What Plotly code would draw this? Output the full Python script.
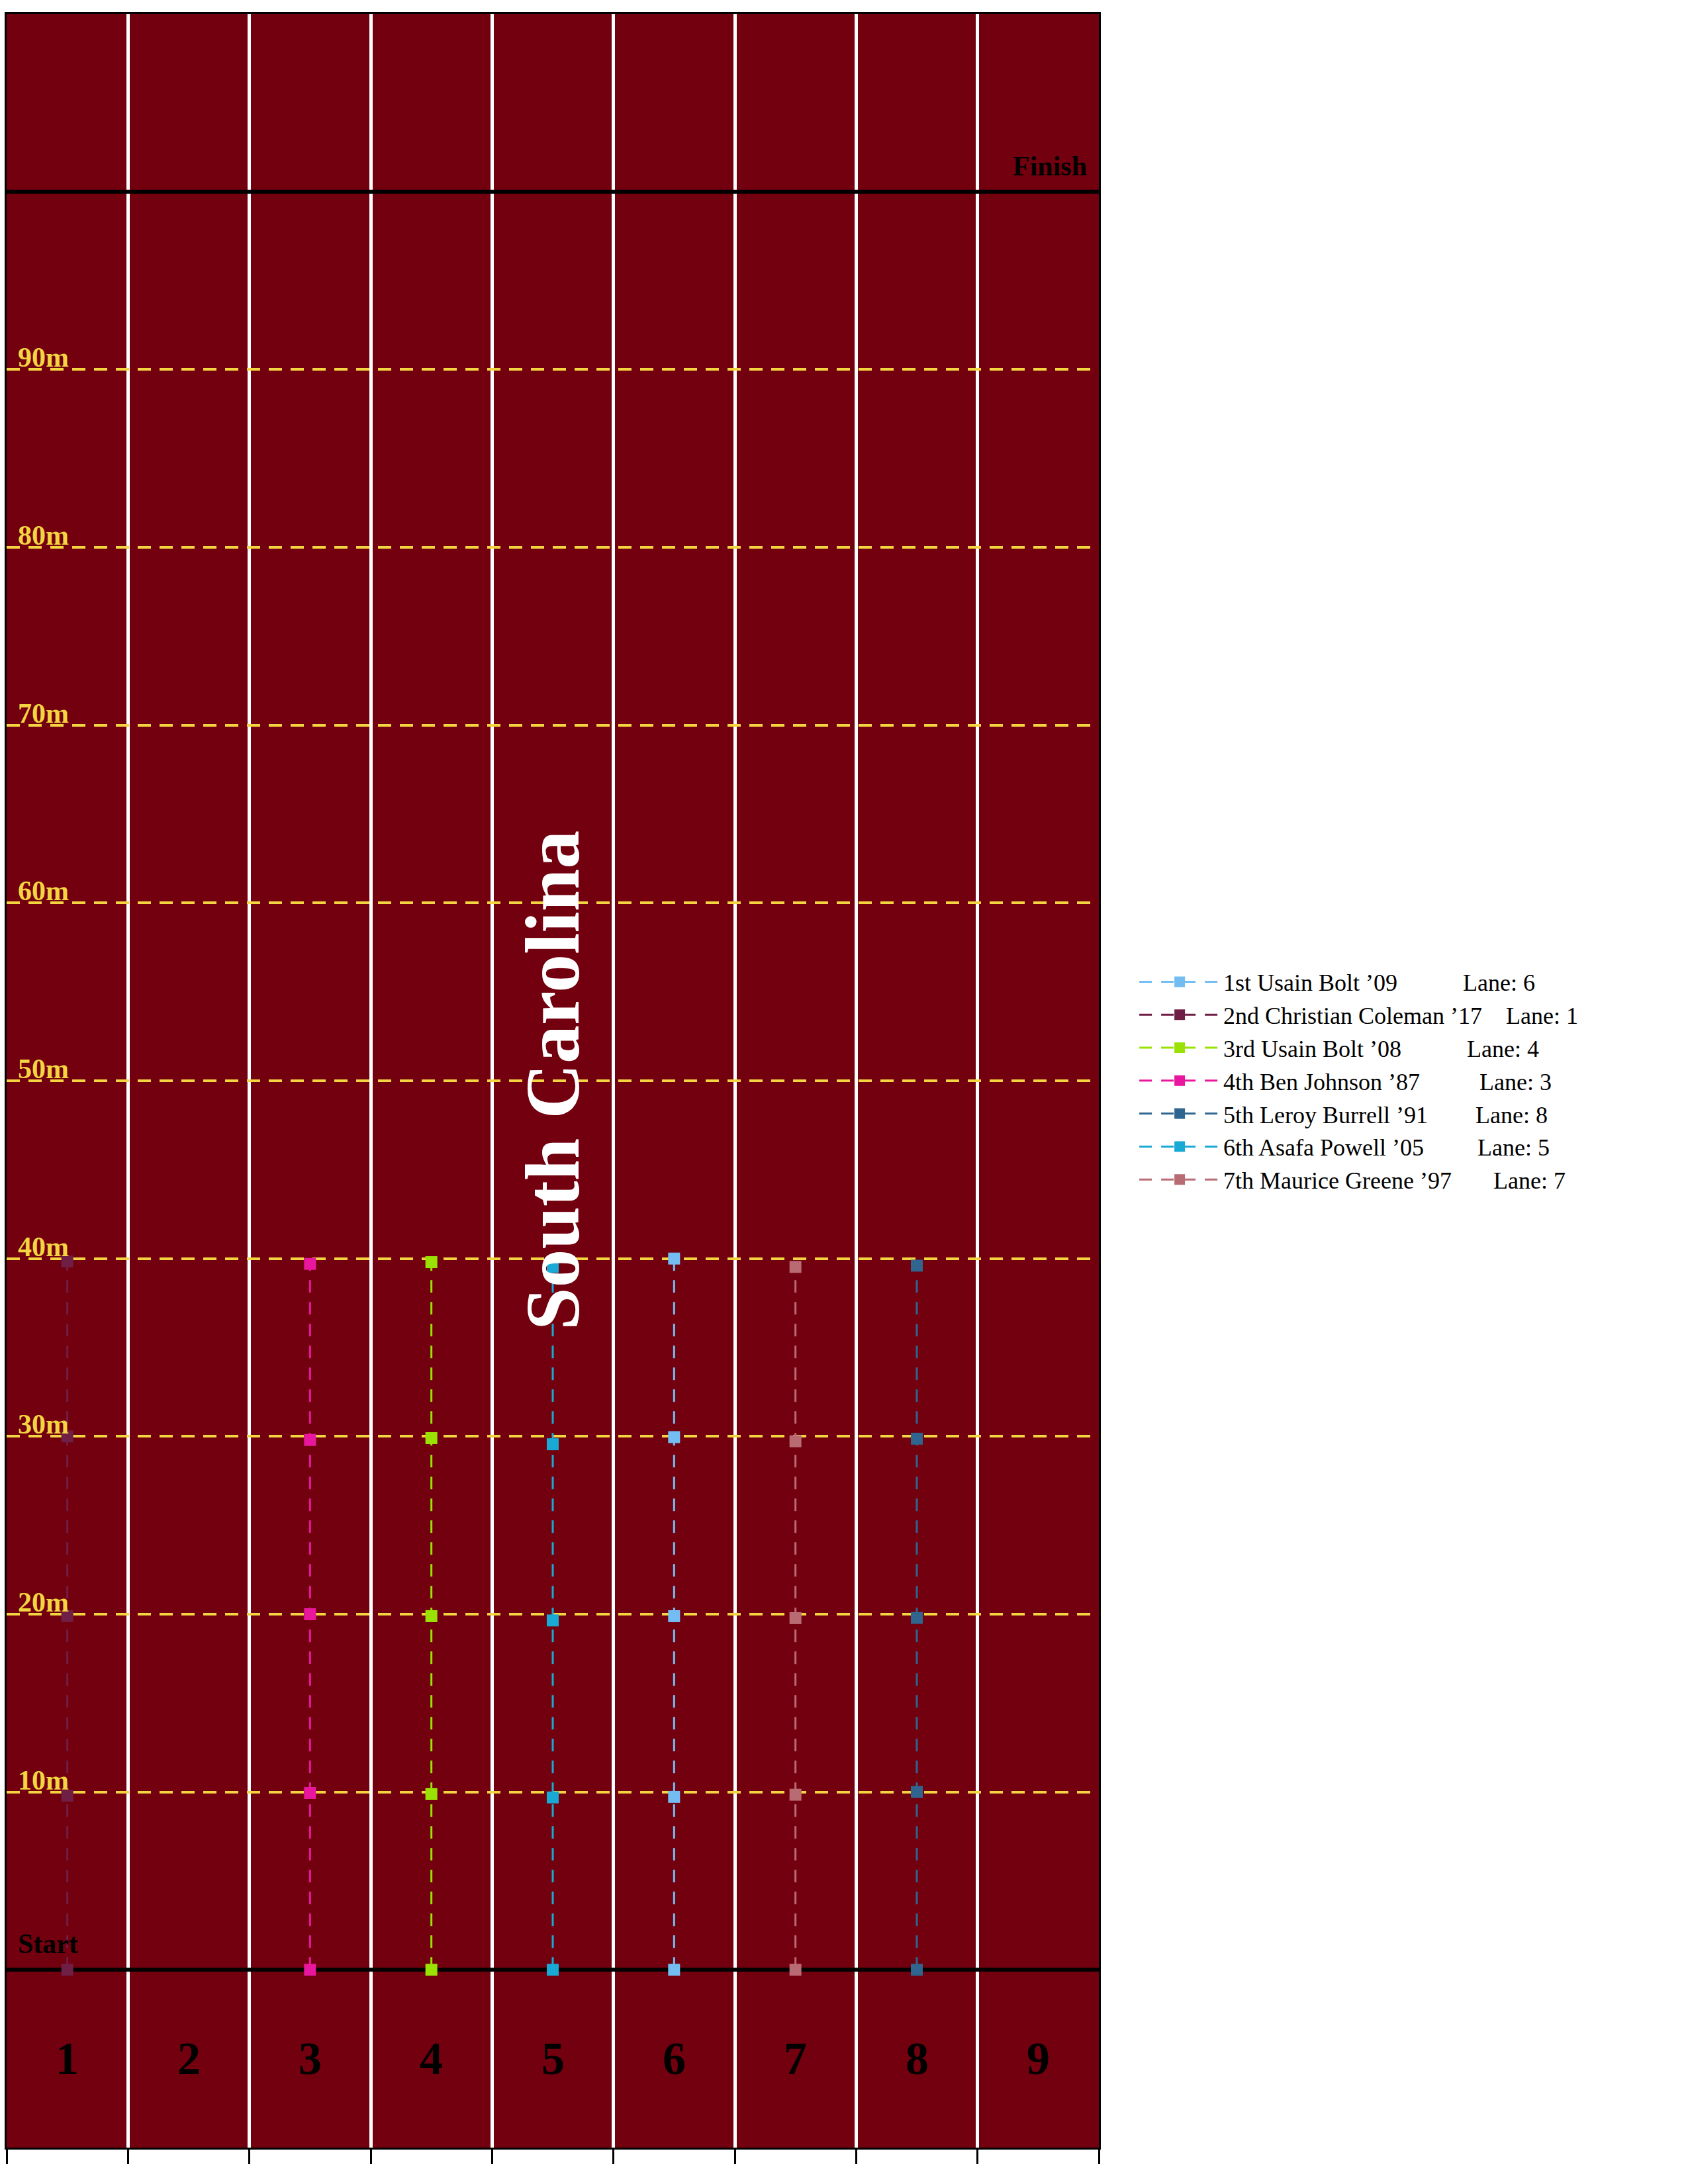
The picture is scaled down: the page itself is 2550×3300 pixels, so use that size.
import plotly.graph_objects as go

# ---------------- data ----------------
lane_numbers = [1, 2, 3, 4, 5, 6, 7, 8, 9]
lane_edges = [0.5, 1.5, 2.5, 3.5, 4.5, 5.5, 6.5, 7.5, 8.5, 9.5]
mark_values = [10, 20, 30, 40, 50, 60, 70, 80, 90]
mark_labels = ["10m", "20m", "30m", "40m", "50m", "60m", "70m", "80m", "90m"]
start_m = 0
finish_m = 100

runner_names = [
    "1st Usain Bolt \u201909",
    "2nd Christian Coleman \u201917",
    "3rd Usain Bolt \u201908",
    "4th Ben Johnson \u201987",
    "5th Leroy Burrell \u201991",
    "6th Asafa Powell \u201905",
    "7th Maurice Greene \u201997",
]
runner_lanes = [6, 1, 4, 3, 8, 5, 7]
runner_colors = ["#74bdf3", "#6f1e45", "#9ae203", "#e9179d", "#2f658f", "#18a9d4", "#b96b74"]

dist_bolt09 = [0, 9.73, 19.89, 29.96, 40.0]
dist_coleman17 = [0, 9.78, 19.89, 30.0, 39.84]
dist_bolt08 = [0, 9.88, 19.89, 29.9, 39.8]
dist_johnson87 = [0, 9.95, 20.0, 29.8, 39.7]
dist_burrell91 = [0, 10.0, 19.79, 29.87, 39.6]
dist_powell05 = [0, 9.69, 19.65, 29.56, 39.53]
dist_greene97 = [0, 9.85, 19.78, 29.72, 39.53]
runner_dists = [dist_bolt09, dist_coleman17, dist_bolt08, dist_johnson87,
                dist_burrell91, dist_powell05, dist_greene97]

title_text = "South Carolina"

# ---------------- styles ----------------
SERIF = "Liberation Serif, Times New Roman, serif"
TRACK = "#72000e"
YELLOW = "#f3d541"

fig = go.Figure()

# start and finish lines (drawn beneath the runners)
fig.add_trace(go.Scatter(
    x=[lane_edges[0], lane_edges[-1], None, lane_edges[0], lane_edges[-1]],
    y=[start_m, start_m, None, finish_m, finish_m],
    mode="lines", line=dict(color="black", width=6), showlegend=False,
    hoverinfo="skip", cliponaxis=False,
))

for name, lane, color, dist in zip(runner_names, runner_lanes, runner_colors, runner_dists):
    label = name + "\u00a0" * (29 - len(name)) + "Lane: " + str(lane)
    fig.add_trace(go.Scatter(
        x=[lane] * len(dist), y=dist, name=label, mode="lines+markers",
        line=dict(color=color, width=3, dash="19px,14px"),
        marker=dict(symbol="square", size=18, color=color),
    ))

annotations = []
for v, t in zip(mark_values, mark_labels):
    annotations.append(dict(x=0.58, y=v, xref="x", yref="y", text=t, showarrow=False,
                            xanchor="left", yanchor="bottom", yshift=-7,
                            font=dict(family=SERIF, size=42, color=YELLOW, weight="bold")))
annotations.append(dict(x=0.58, y=start_m, xref="x", yref="y", text="Start", showarrow=False,
                        xanchor="left", yanchor="bottom", yshift=14,
                        font=dict(family=SERIF, size=42, color="black", weight="bold")))
annotations.append(dict(x=9.41, y=finish_m, xref="x", yref="y", text="Finish", showarrow=False,
                        xanchor="right", yanchor="bottom", yshift=14,
                        font=dict(family=SERIF, size=42, color="black", weight="bold")))
for n in lane_numbers:
    annotations.append(dict(x=n, y=-5, xref="x", yref="y", text=str(n), showarrow=False,
                            xanchor="center", yanchor="middle",
                            font=dict(family=SERIF, size=70, color="black", weight="bold")))
annotations.append(dict(x=5, y=50, xref="x", yref="y", text=title_text, showarrow=False,
                        textangle=-90, xanchor="center", yanchor="middle",
                        font=dict(family=SERIF, size=116, color="white", weight="bold")))

fig.update_layout(
    width=2550, height=3300,
    margin=dict(l=10, r=890, t=21, b=55),
    paper_bgcolor="white", plot_bgcolor=TRACK,
    showlegend=True,
    legend=dict(x=1.034, xanchor="left", y=0.5, yanchor="middle",
                font=dict(family=SERIF, size=36, color="black"),
                bgcolor="rgba(0,0,0,0)", itemwidth=122, tracegroupgap=0),
    annotations=annotations,
    font=dict(family=SERIF),
)
fig.update_xaxes(range=[0.5, 9.5], tickvals=lane_edges, showticklabels=False,
                 ticks="outside", ticklen=22, tickwidth=3, tickcolor="black",
                 showgrid=True, gridcolor="white", gridwidth=5, zeroline=False,
                 showline=True, mirror=True, linecolor="black", linewidth=3)
fig.update_yaxes(range=[-10, 110], tickvals=mark_values, showticklabels=False, ticks="",
                 showgrid=True, gridcolor=YELLOW, gridwidth=4, griddash="20px,13px",
                 zeroline=False, showline=True, mirror=True, linecolor="black", linewidth=3)

fig.write_html("out.html")
